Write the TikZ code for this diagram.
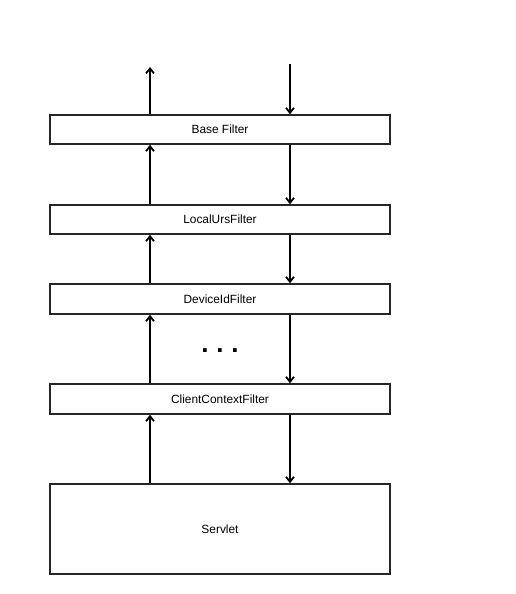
\documentclass[tikz,border=0pt]{standalone}
\usepackage{fontspec}
\setmainfont{Liberation Sans}
\usetikzlibrary{arrows.meta}
\begin{document}
\begin{tikzpicture}[x=1pt,y=-1pt,
  filterbox/.style={draw=black!85,line width=1.6pt,rectangle,minimum width=340pt,inner sep=0pt,font=\fontsize{11.9}{14}\selectfont},
  arr/.style={line width=1.5pt,-{Straight Barb[length=5pt,width=8pt,line width=1.8pt]}}]
\useasboundingbox[fill=white] (0,0) rectangle (515,594);
\node[filterbox,minimum height=29pt] (base) at (220,129.5) {Base Filter};
\node[filterbox,minimum height=29pt] (local) at (220,219.5) {LocalUrsFilter};
\node[filterbox,minimum height=30pt] (device) at (220,299) {DeviceIdFilter};
\node[filterbox,minimum height=30pt] (client) at (220,399) {ClientContextFilter};
\node[filterbox,minimum height=90pt] (servlet) at (220,529) {Servlet};
\coordinate (L) at (150,0);
\coordinate (R) at (290,0);
\coordinate (topL) at (150,67);
\coordinate (topR) at (290,64);
\node[anchor=base,inner sep=0pt,font=\fontsize{26}{30}\selectfont\bfseries] (dots) at (220,352) {.\kern7.8pt.\kern7.8pt.};
% upward (left)
\draw[arr] (base.north -| L) -- (topL);
\draw[arr] (local.north -| L) -- (base.south -| L);
\draw[arr] (device.north -| L) -- (local.south -| L);
\draw[arr] (client.north -| L) -- (device.south -| L);
\draw[arr] (servlet.north -| L) -- (client.south -| L);
% downward (right)
\draw[arr] (topR) -- (base.north -| R);
\draw[arr] (base.south -| R) -- (local.north -| R);
\draw[arr] (local.south -| R) -- (device.north -| R);
\draw[arr] (device.south -| R) -- (client.north -| R);
\draw[arr] (client.south -| R) -- (servlet.north -| R);
\end{tikzpicture}
\end{document}
